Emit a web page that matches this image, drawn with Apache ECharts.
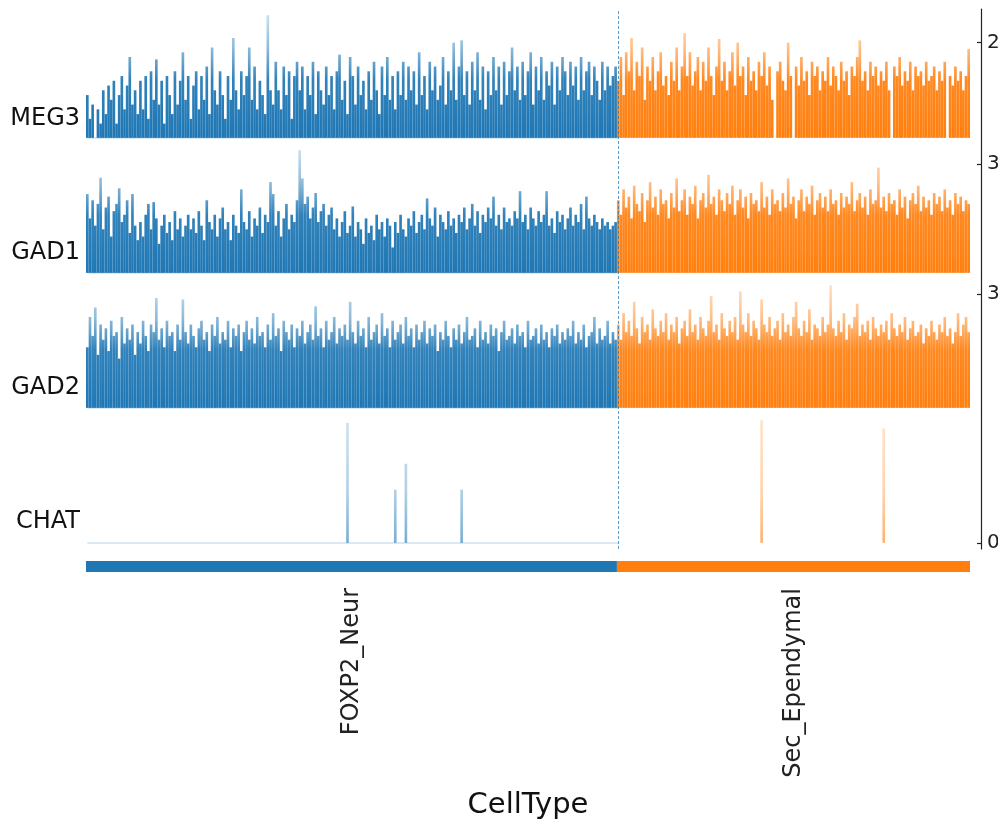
<!DOCTYPE html>
<html><head><meta charset="utf-8">
<script src="https://cdn.jsdelivr.net/npm/echarts@6/dist/echarts.min.js"></script>
<style>html,body{margin:0;padding:0;background:#fff}#c{width:998px;height:823px}</style>
</head><body><div id="c"></div>
<script>
// ---------------- data ----------------
const genes = ['MEG3', 'GAD1', 'GAD2', 'CHAT'];
const groups = ['FOXP2_Neur', 'Sec_Ependymal'];
const groupColors = ['#1f77b4', '#ff7f0e'];
const trackTicks = [2, 3, 3, 0];
const xLabel = 'CellType';

const meg3Foxp2 = [
0.9,0.4,0.7,0,0.6,0.3,1.0,0.5,1.1,0.8,1.2,0.3,0.9,1.3,0.6,1.1,1.7,0.7,1.0,0.5,
1.2,0.6,1.3,0.4,1.4,0.8,1.65,0.7,1.2,0.3,1.3,0.9,0.5,1.4,0.7,1.2,1.8,0.8,1.3,0.4,
1.1,1.4,0.6,1.3,0.8,1.5,0.5,1.9,1.0,0.7,1.4,0.9,0.4,1.3,0.8,2.1,1.0,0.6,1.4,0.9,
1.3,1.9,0.8,1.5,0.6,1.2,0.9,0.5,2.58,1.0,0.7,1.6,1.0,0.6,1.5,0.9,1.4,0.4,1.3,1.6,
1.0,1.5,0.6,1.3,0.9,1.6,0.5,1.4,1.0,0.7,1.5,0.9,1.3,0.6,1.4,1.75,0.8,1.2,0.5,1.7,
1.3,0.7,1.5,0.9,1.2,0.6,1.4,0.8,1.6,1.0,0.5,1.5,0.9,1.7,0.8,1.3,0.6,1.4,0.9,1.6,
0.8,1.5,1.0,1.4,0.7,1.8,0.9,1.3,0.6,1.6,1.0,1.5,0.8,1.1,1.7,0.7,1.4,1.0,2.0,0.8,
1.5,2.05,0.9,1.4,0.7,1.6,1.0,1.8,0.8,1.5,0.6,1.4,0.9,1.7,1.0,1.5,0.7,1.6,0.9,1.4,
1.9,1.0,1.5,0.8,1.6,0.9,1.4,1.8,0.7,1.5,1.0,1.7,0.8,1.4,1.1,1.6,0.7,1.5,1.0,1.7,
1.4,0.9,1.6,1.1,1.5,0.8,1.7,1.0,1.4,1.6,0.9,1.5,1.2,0.8,1.6,1.0,1.5,1.1,1.3,1.5
];
const meg3Sec = [
1.2,1.7,0.9,1.8,1.4,2.1,1.0,1.6,1.3,1.9,0.8,1.5,1.2,1.7,1.0,1.4,1.8,1.1,1.3,0.9,
1.6,1.2,1.9,1.0,1.5,2.2,1.3,1.8,1.1,1.4,1.7,1.0,1.6,1.2,1.9,1.3,0.9,1.5,2.08,1.2,
1.6,1.0,1.4,1.8,1.1,2.0,1.3,1.5,0.9,1.7,1.2,1.4,1.0,1.6,1.3,1.8,1.1,1.5,0.8,0,
1.4,1.6,1.2,1.0,2.0,1.3,0,1.5,1.1,1.7,1.2,1.4,0.9,1.6,1.3,1.5,1.0,1.4,1.2,1.7,
1.1,1.5,1.3,1.0,1.6,1.2,1.4,0.9,1.5,1.3,1.7,2.05,1.2,1.4,1.0,1.6,1.3,1.5,1.1,1.4,
1.2,1.6,1.0,0,1.5,1.3,1.7,1.1,1.4,1.2,1.6,1.0,1.5,1.3,1.4,1.1,1.6,1.2,1.3,1.5,
1.0,1.4,1.2,1.6,0,1.3,1.1,1.5,1.2,1.4,1.0,1.3,1.87
];
const gad1Foxp2 = [
2.17,1.5,2.0,1.3,1.9,2.62,1.2,1.8,2.1,1.0,1.7,1.9,2.33,1.4,1.6,2.0,1.1,2.17,1.3,0.9,
1.4,1.0,1.6,1.9,1.2,1.95,1.5,0.8,1.3,1.6,1.1,1.4,0.9,1.7,1.2,1.5,1.0,1.3,1.6,1.2,
1.5,1.1,1.7,1.3,0.9,2.0,1.4,1.2,1.6,1.0,1.5,1.8,1.2,1.4,0.9,1.6,1.3,1.1,2.3,1.4,
1.2,1.7,1.0,1.5,1.3,1.8,1.1,1.6,1.4,2.5,2.17,1.3,1.7,1.0,1.5,1.9,1.2,1.6,1.4,2.0,
3.38,2.6,1.9,2.1,1.5,1.8,2.2,1.4,1.7,1.9,1.3,1.6,1.8,1.2,1.5,1.0,1.4,1.7,1.1,1.3,
1.83,1.0,1.4,1.2,0.8,1.5,1.1,1.3,0.9,1.6,1.2,1.4,1.0,1.5,1.3,0.7,1.4,1.1,1.6,1.2,
1.0,1.5,1.3,1.7,1.1,1.4,1.6,1.2,2.05,1.5,1.3,1.8,1.0,1.6,1.4,1.2,1.7,1.3,1.5,1.1,
1.6,1.4,1.8,1.2,1.5,1.9,1.3,1.7,1.1,1.6,1.4,1.8,1.5,2.1,1.3,1.6,1.2,1.8,1.4,1.5,
1.3,1.7,1.5,2.25,1.4,1.6,1.2,1.8,1.5,1.3,1.7,1.4,1.6,2.25,1.3,1.5,1.1,1.7,1.4,1.6,
1.2,1.5,1.8,1.3,1.6,1.4,1.9,1.2,2.1,1.5,1.3,1.6,1.4,1.2,1.5,1.3,1.4,1.2,1.3,1.4
];
const gad1Sec = [
2.0,1.6,2.3,1.8,2.1,1.5,2.4,1.9,1.7,2.2,1.4,2.0,2.5,1.8,2.1,1.6,2.3,1.9,2.0,1.5,
2.2,1.8,2.6,1.7,2.0,2.3,1.6,2.1,1.9,2.4,1.5,2.0,2.2,1.8,2.7,1.9,2.1,1.6,2.3,2.0,
1.7,2.2,1.9,2.4,1.6,2.0,2.3,1.8,2.1,1.5,2.2,1.9,2.0,1.7,2.5,1.8,2.1,1.6,2.3,1.9,
2.0,1.7,2.2,1.8,2.6,1.9,2.1,1.5,2.0,2.3,1.7,2.1,1.9,2.4,1.6,2.0,2.2,1.8,2.1,1.7,
2.3,1.9,2.0,1.6,2.2,1.8,2.1,1.9,2.5,1.7,2.0,2.2,1.8,2.1,1.6,2.3,1.9,2.0,2.9,1.8,
2.1,1.7,2.2,1.9,2.0,1.6,2.3,1.8,2.1,1.5,2.0,2.2,1.9,2.4,1.7,2.1,1.8,2.0,1.6,2.2,
1.9,2.1,1.7,2.3,1.8,2.0,1.6,2.2,1.9,2.1,1.7,2.0,1.9
];
const gad2Foxp2 = [
1.6,2.4,1.9,2.65,1.4,2.2,1.8,2.1,1.5,2.3,1.9,2.0,1.3,2.4,1.7,2.1,1.8,2.2,1.4,2.0,
1.7,2.3,1.9,1.5,2.2,2.0,2.9,1.8,2.1,1.6,2.3,1.9,2.0,1.5,2.2,1.8,2.86,2.0,1.7,2.2,
1.9,1.6,2.1,2.3,1.8,2.0,1.5,2.2,1.9,2.4,1.7,2.0,1.8,2.3,1.6,2.1,1.9,2.2,1.5,2.0,
2.3,1.8,2.1,1.7,2.4,1.9,2.0,1.6,2.2,1.8,2.5,1.9,2.1,1.5,2.3,2.0,1.8,2.2,1.6,2.1,
1.9,2.3,1.7,2.0,2.2,1.8,2.68,1.9,2.1,1.6,2.3,1.8,2.0,2.4,1.7,2.1,1.9,2.2,1.8,2.8,
2.0,1.7,2.3,1.9,2.1,1.6,2.4,1.8,2.0,2.2,1.7,2.5,1.9,2.1,1.6,2.3,1.8,2.0,2.2,1.7,
2.4,1.9,2.1,1.6,2.2,1.8,2.0,2.3,1.7,2.1,1.9,2.2,1.5,2.0,1.8,2.3,1.9,1.6,2.1,1.8,
2.2,1.7,2.0,2.4,1.8,1.9,2.1,1.6,2.3,1.8,2.0,1.7,2.2,1.9,2.1,1.5,2.0,2.3,1.8,1.9,
2.1,1.7,2.2,1.9,2.0,1.6,2.3,1.8,1.9,2.1,1.7,2.2,1.8,2.0,1.6,2.1,1.9,2.2,1.7,2.0,
1.8,2.1,1.9,2.3,1.7,2.0,1.8,2.2,1.6,1.9,2.0,2.4,1.7,2.1,1.8,1.9,2.3,1.7,2.0,1.8
];
const gad2Sec = [
2.2,1.8,2.5,2.0,2.3,1.9,2.8,2.1,1.7,2.4,2.0,2.2,1.8,2.6,2.1,1.9,2.3,2.0,2.5,1.8,
2.2,2.0,2.4,1.7,2.1,2.3,1.9,2.6,2.0,2.2,1.8,2.4,2.1,1.9,2.3,2.95,2.0,2.2,1.8,2.5,
2.1,1.9,2.3,2.0,2.4,1.8,3.08,2.2,2.0,2.5,1.9,2.3,2.1,1.8,2.86,2.2,2.0,2.4,1.9,2.1,
2.3,1.8,2.5,2.0,2.2,1.9,2.4,2.8,2.1,1.9,2.3,2.0,2.6,1.8,2.2,2.1,1.9,2.4,2.0,2.2,
3.24,2.1,1.9,2.3,2.0,2.5,1.8,2.2,2.1,2.4,2.75,1.9,2.2,2.0,2.3,1.8,2.4,2.1,1.9,2.2,
2.0,2.3,1.8,2.5,2.1,1.9,2.2,2.0,2.4,1.8,2.1,2.3,1.9,2.0,2.2,1.7,2.1,1.9,2.3,2.0,
1.8,2.2,2.0,2.4,1.9,2.1,1.7,2.0,2.5,1.9,2.2,2.4,2.0
];
const chatFoxp2 = [
0,0,0,0,0,0,0,0,0,0,0,0,0,0,0,0,0,0,0,0,
0,0,0,0,0,0,0,0,0,0,0,0,0,0,0,0,0,0,0,0,
0,0,0,0,0,0,0,0,0,0,0,0,0,0,0,0,0,0,0,0,
0,0,0,0,0,0,0,0,0,0,0,0,0,0,0,0,0,0,0,0,
0,0,0,0,0,0,0,0,0,0,0,0,0,0,0,0,0,0,0.88,0,
0,0,0,0,0,0,0,0,0,0,0,0,0,0,0,0,0.39,0,0,0,
0.58,0,0,0,0,0,0,0,0,0,0,0,0,0,0,0,0,0,0,0,
0,0.39,0,0,0,0,0,0,0,0,0,0,0,0,0,0,0,0,0,0,
0,0,0,0,0,0,0,0,0,0,0,0,0,0,0,0,0,0,0,0,
0,0,0,0,0,0,0,0,0,0,0,0,0,0,0,0,0,0,0,0
];
const chatSec = [
0,0,0,0,0,0,0,0,0,0,0,0,0,0,0,0,0,0,0,0,
0,0,0,0,0,0,0,0,0,0,0,0,0,0,0,0,0,0,0,0,
0,0,0,0,0,0,0,0,0,0,0,0,0,0,0.9,0,0,0,0,0,
0,0,0,0,0,0,0,0,0,0,0,0,0,0,0,0,0,0,0,0,
0,0,0,0,0,0,0,0,0,0,0,0,0,0,0,0,0,0,0,0,
0.84,0,0,0,0,0,0,0,0,0,0,0,0,0,0,0,0,0,0,0,
0,0,0,0,0,0,0,0,0,0,0,0,0
];

// ---------------- chart ----------------
const trackData = [[meg3Foxp2, meg3Sec], [gad1Foxp2, gad1Sec], [gad2Foxp2, gad2Sec], [chatFoxp2, chatSec]];
const N1 = meg3Foxp2.length, N2 = meg3Sec.length, N = N1 + N2;
const cells = Array.from({length: N}, (_, i) => String(i));
const FONT = 'DejaVu Sans';
const L = 86, W = 884, TOP = 9, TH = 135;

function rgba(hex, a) {
  const n = parseInt(hex.slice(1), 16);
  return 'rgba(' + (n >> 16) + ',' + ((n >> 8) & 255) + ',' + (n & 255) + ',' + a + ')';
}
// vertical fade in screen space: pale at the top of the track, solid towards the baseline
function grad(c, y0, y1, chat) {
  const stops = chat
    ? [{offset: 0, color: rgba(c, 0.2)}, {offset: 0.6, color: rgba(c, 0.35)}, {offset: 1, color: rgba(c, 0.6)}]
    : [{offset: 0, color: rgba(c, 0.18)}, {offset: 0.3, color: rgba(c, 0.5)},
       {offset: 0.55, color: rgba(c, 0.92)}, {offset: 1, color: rgba(c, 1)}];
  return {type: 'linear', x: 0, y: y0, x2: 0, y2: y1, global: true, colorStops: stops};
}

const dashStyle = {type: [3, 2], color: '#1f77b4', width: 0.8, opacity: 0.9};
const grid = [], xAxis = [], yAxis = [], series = [];
trackData.forEach((parts, t) => {
  const top = TOP + t * TH;
  const base = top + TH * 1.05 / 1.1;
  grid.push({left: L, top: top, width: W, height: TH, outerBoundsMode: 'none', containLabel: false});
  const M = Math.max(...parts[0], ...parts[1]);
  xAxis.push({gridIndex: t, type: 'category', data: cells, boundaryGap: true, show: false});
  yAxis.push({gridIndex: t, type: 'value', position: 'right', offset: 11,
    min: -0.05 * M, max: 1.05 * M, splitLine: {show: false},
    axisLine: {show: true, onZero: false, lineStyle: {color: '#222', width: 1.2}},
    axisTick: {show: true, inside: true, length: 4, customValues: [trackTicks[t]], lineStyle: {color: '#222', width: 1.2}},
    axisLabel: {show: true, customValues: [trackTicks[t]], fontSize: 20, color: '#222', fontFamily: FONT,
      margin: 6, verticalAlign: 'middle', padding: [6, 0, 0, 0]}});
  parts.forEach((vals, g) => {
    const padded = g === 0 ? vals.concat(new Array(N2).fill('-')) : new Array(N1).fill('-').concat(vals);
    const off = g === 0 ? 0 : N1;
    const lines = [[{coord: [off - 0.5, 0]}, {coord: [off + vals.length - 0.5, 0]}]];
    if (g === 0) {
      lines.push([{coord: [N1 - 0.5, -0.05 * M], lineStyle: dashStyle},
                  {coord: [N1 - 0.5, 1.05 * M], lineStyle: dashStyle}]);
    }
    series.push({type: 'bar', xAxisIndex: t, yAxisIndex: t, silent: true, animation: false,
      barCategoryGap: '0%', barGap: '-100%', barWidth: '100%',
      data: padded,
      itemStyle: {color: grad(groupColors[g], top, base, t === 3)}, z: 2,
      markLine: {symbol: 'none', silent: true, animation: false, label: {show: false},
        lineStyle: {type: 'solid', color: groupColors[g], width: 1.5, opacity: 0.22},
        data: lines}});
  });
});

// group colour bar
grid.push({left: L, top: 561, width: W, height: 11, outerBoundsMode: 'none', containLabel: false});
xAxis.push({gridIndex: 4, type: 'value', min: 0, max: N,
  axisLine: {show: false}, axisTick: {show: false}, splitLine: {show: false},
  axisLabel: {show: true, customValues: [N1 / 2, N1 + N2 / 2], rotate: 90, fontSize: 24,
    fontFamily: FONT, color: '#222', margin: 16,
    formatter: v => (v < N1 ? groups[0] : groups[1])}});
yAxis.push({gridIndex: 4, type: 'category', data: [xLabel], show: false});
[N1, N2].forEach((cnt, g) => series.push({type: 'bar', xAxisIndex: 4, yAxisIndex: 4, stack: 'grp',
  barWidth: '100%', silent: true, animation: false, data: [cnt], itemStyle: {color: groupColors[g]}}));

// text labels
const labelY = [119, 253, 388, 522];
const texts = genes.map((gname, t) => ({type: 'text', x: 80, y: labelY[t], silent: true,
  style: {text: gname, fontSize: 24, fontFamily: FONT, fill: '#111', textAlign: 'right', textVerticalAlign: 'middle'}}));
texts.push({type: 'text', x: 528, y: 805, silent: true,
  style: {text: xLabel, fontSize: 29, fontFamily: FONT, fill: '#111', textAlign: 'center', textVerticalAlign: 'middle'}});

const chart = echarts.init(document.getElementById('c'), null, {renderer: 'canvas'});
chart.setOption({backgroundColor: '#fff', animation: false, grid, xAxis, yAxis, series, graphic: texts});
</script></body></html>
